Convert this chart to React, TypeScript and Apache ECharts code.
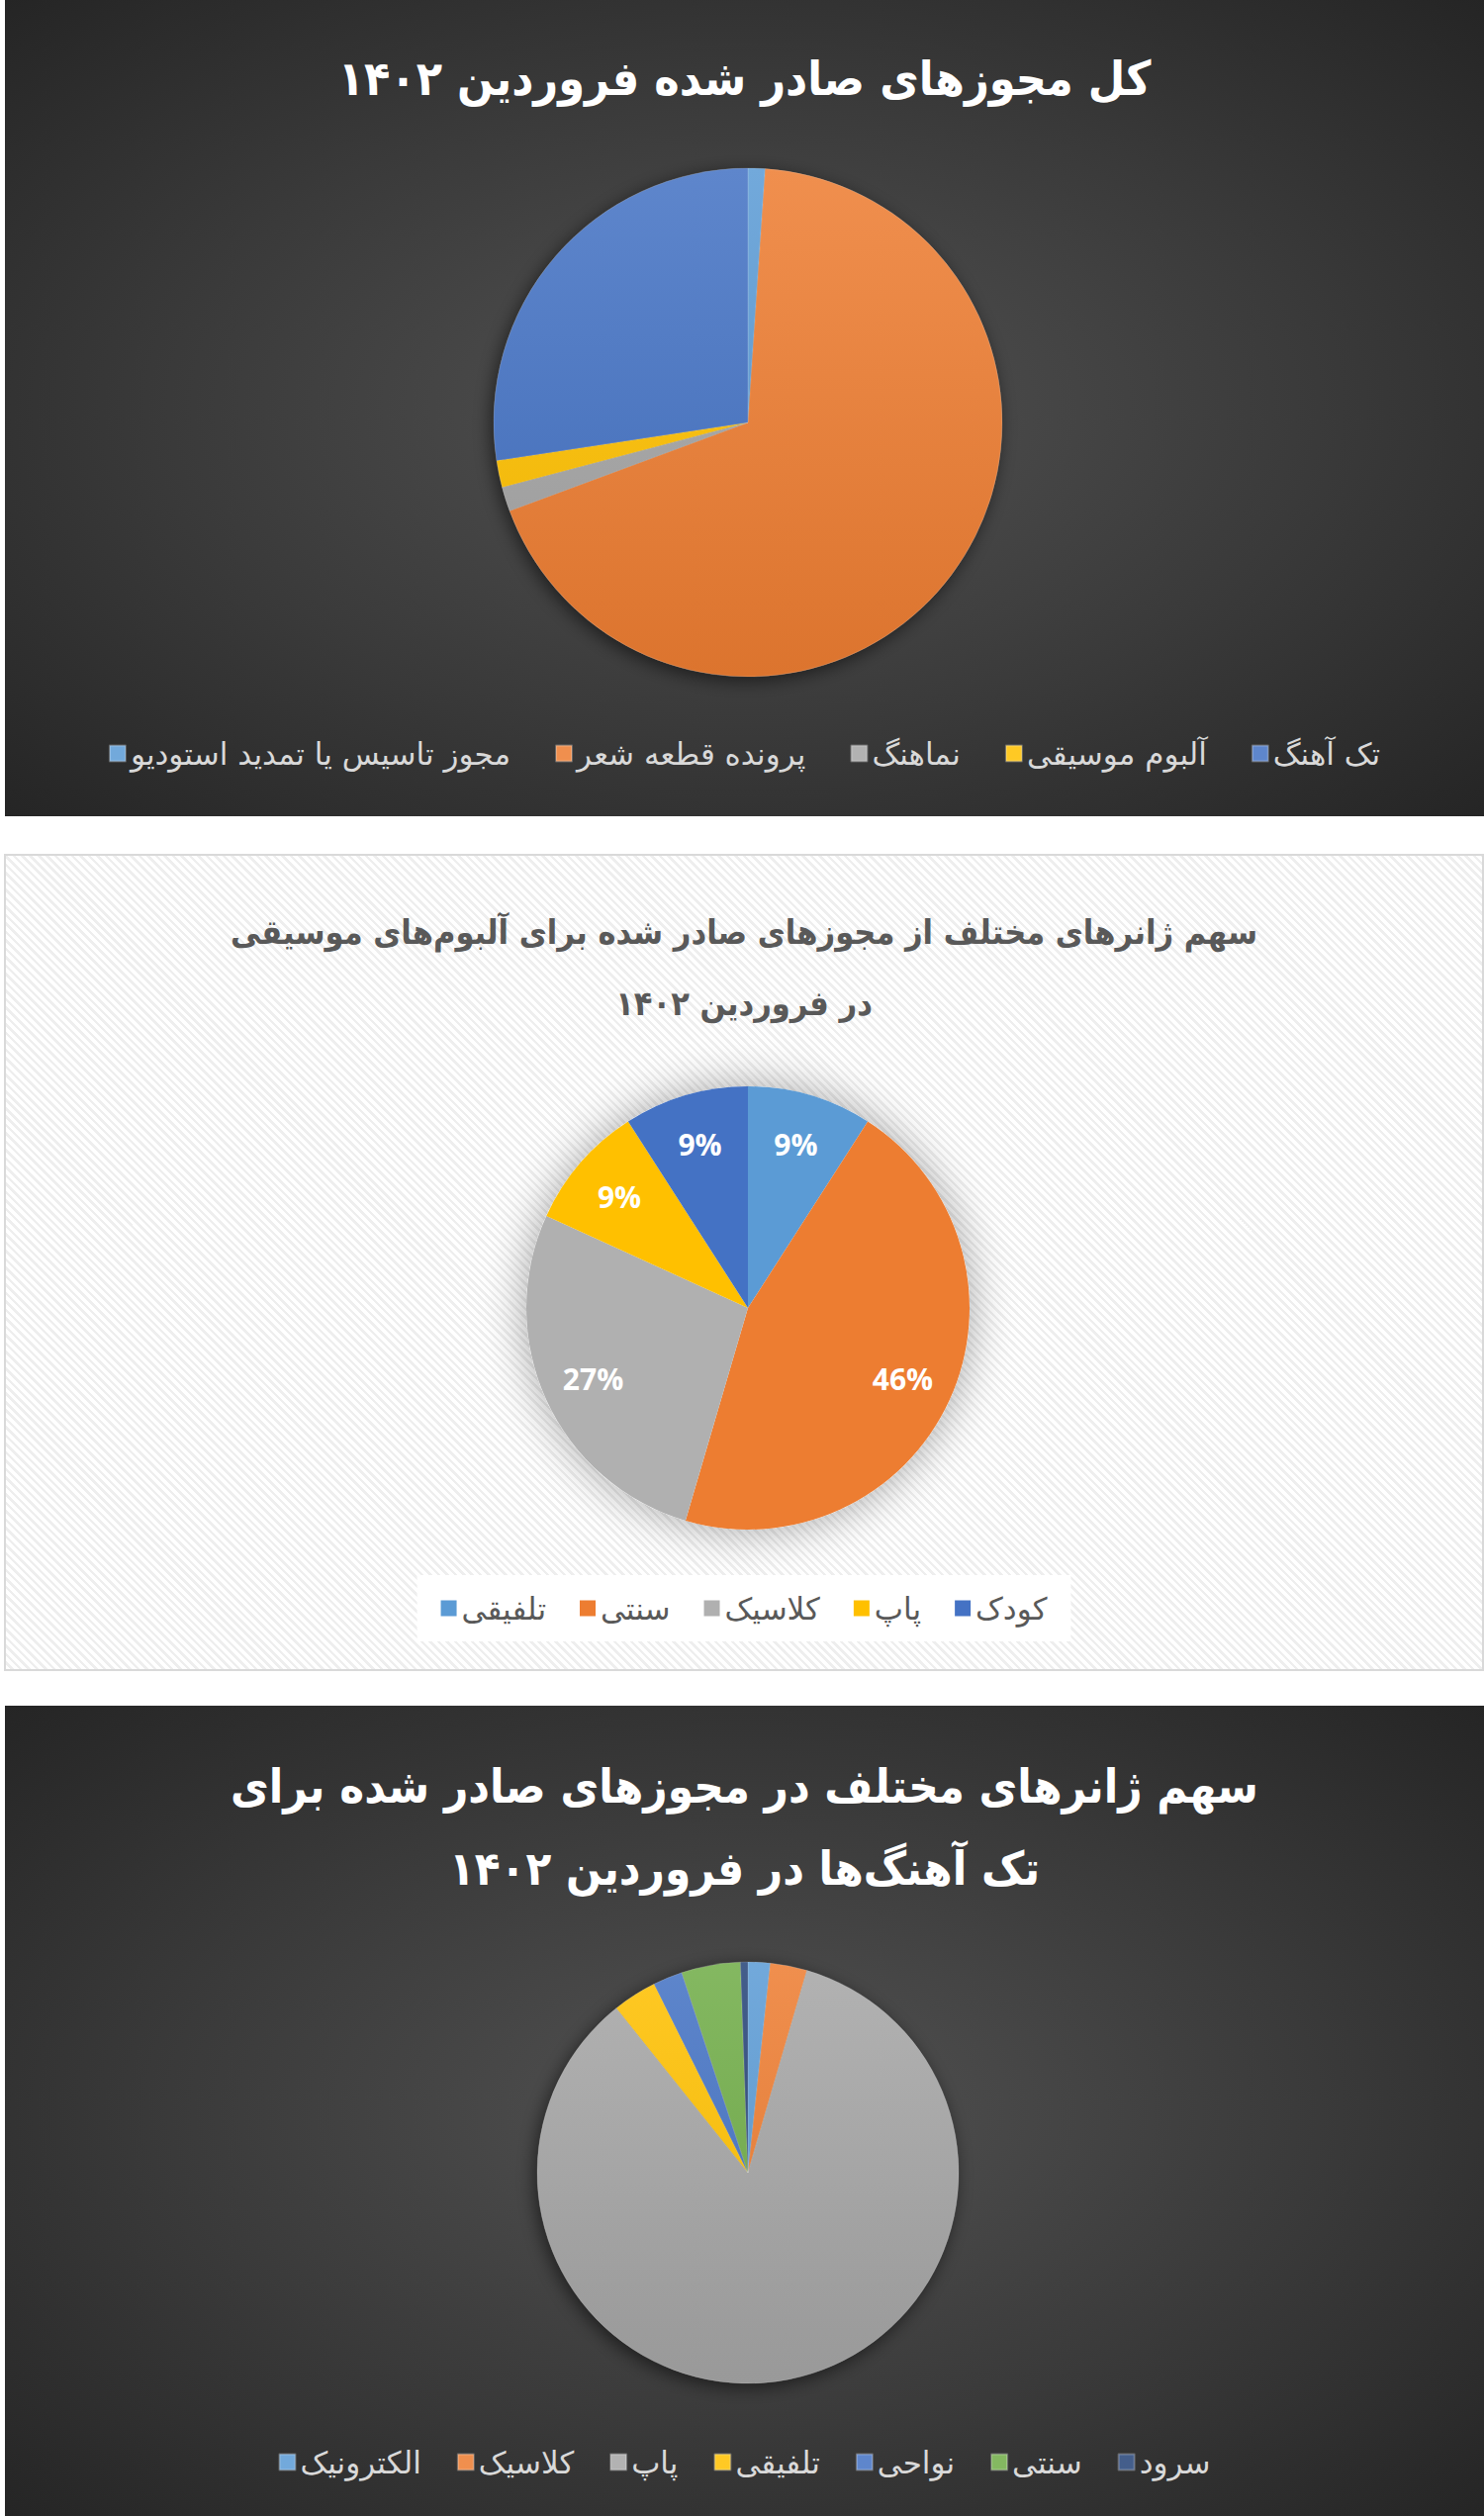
import React, { useEffect, useRef } from "react";
import * as echarts from "echarts";

// ---------- data ----------
const TITLE1 = "کل مجوزهای صادر شده فروردین ۱۴۰۲";
const CATS1 = ["مجوز تاسیس یا تمدید استودیو", "پرونده قطعه شعر", "نماهنگ", "آلبوم موسیقی", "تک آهنگ"];
const VALS1 = [7, 441, 10, 11, 177];
const COLORS1 = ["#5B9BD5", "#ED7D31", "#A5A5A5", "#FFC000", "#4472C4"];

const TITLE2 = "سهم ژانرهای مختلف از مجوزهای صادر شده برای آلبوم‌های موسیقی\nدر فروردین ۱۴۰۲";
const CATS2 = ["تلفیقی", "سنتی", "کلاسیک", "پاپ", "کودک"];
const VALS2 = [1, 5, 3, 1, 1];
const COLORS2 = ["#5B9BD5", "#ED7D31", "#B0B0B0", "#FFC000", "#4472C4"];

const TITLE3 = "سهم ژانرهای مختلف در مجوزهای صادر شده برای\nتک آهنگ‌ها در فروردین ۱۴۰۲";
const CATS3 = ["الکترونیک", "کلاسیک", "پاپ", "تلفیقی", "نواحی", "سنتی", "سرود"];
const VALS3 = [3, 5, 150, 6, 4, 8, 1];
const COLORS3 = ["#5B9BD5", "#ED7D31", "#A5A5A5", "#FFC000", "#4472C4", "#70AD47", "#264478"];

const FA = "'DejaVu Sans', sans-serif";
const FA_TITLE = "'DejaVu Sans Condensed', 'DejaVu Sans', sans-serif";

// ---------- helpers ----------
function shade(hex: string, amt: number): string {
  const n = parseInt(hex.slice(1), 16);
  let r = (n >> 16) & 255, g = (n >> 8) & 255, b = n & 255;
  const f = (c: number) => {
    const v = amt >= 0 ? c + (255 - c) * amt : c * (1 + amt);
    return Math.max(0, Math.min(255, Math.round(v)));
  };
  r = f(r); g = f(g); b = f(b);
  return "#" + ((1 << 24) + (r << 16) + (g << 8) + b).toString(16).slice(1);
}

function vgrad(base: string, y0: number, y1: number) {
  return {
    type: "linear",
    x: 0, y: y0, x2: 0, y2: y1,
    global: true,
    colorStops: [
      { offset: 0, color: shade(base, 0.14) },
      { offset: 1, color: shade(base, -0.07) },
    ],
  };
}

function Chart({ option, style }: { option: any; style: React.CSSProperties }) {
  const ref = useRef<HTMLDivElement>(null);
  useEffect(() => {
    if (!ref.current) return;
    const chart = echarts.init(ref.current, null, { renderer: "svg" });
    chart.setOption(option);
    return () => chart.dispose();
  }, [option]);
  return <div ref={ref} style={style} />;
}

// ---------- options ----------
function darkPie(
  title: string, titleSize: number, titleLH: number, titleTop: number,
  cats: string[], vals: number[], colors: string[],
  cx: number, cy: number, r: number, legendTop: number, legendGap: number
) {
  return {
    animation: false,
    title: {
      text: title,
      left: "center",
      top: titleTop,
      textStyle: {
        color: "#FFFFFF",
        fontSize: titleSize,
        fontWeight: "bold",
        fontFamily: FA_TITLE,
        lineHeight: titleLH,
      },
    },
    legend: {
      data: cats,
      left: "center",
      top: legendTop,
      itemWidth: 16,
      itemHeight: 16,
      itemGap: legendGap,
      icon: "rect",
      textStyle: { color: "#D9D9D9", fontSize: 31, fontFamily: FA },
    },
    series: [
      {
        type: "pie",
        silent: true,
        center: [cx, cy],
        radius: r,
        label: { show: false },
        labelLine: { show: false },
        itemStyle: {
          color: "#555",
          shadowBlur: 18,
          shadowOffsetX: -3,
          shadowOffsetY: 4,
          shadowColor: "rgba(0,0,0,0.55)",
        },
        data: [{ value: 1, name: "__base" }],
        z: 1,
      },
      {
        type: "pie",
        center: [cx, cy],
        radius: r,
        startAngle: 90,
        clockwise: true,
        label: { show: false },
        labelLine: { show: false },
        itemStyle: { borderWidth: 0.6, borderColor: "rgba(255,255,255,0.25)" },
        data: cats.map((c, i) => ({
          name: c,
          value: vals[i],
          itemStyle: { color: vgrad(colors[i], cy - r, cy + r) },
        })),
        z: 2,
      },
    ],
  };
}

const option1 = darkPie(TITLE1, 48, 60, 44, CATS1, VALS1, COLORS1, 751, 427, 257, 741, 45);
const option3 = darkPie(TITLE3, 47, 83, 35, CATS3, VALS3, COLORS3, 751, 472, 213, 2486 - 1724 - 18, 36);

const cx2 = 752, cy2 = 459, r2 = 224;
const option2 = {
  animation: false,
  title: {
    text: TITLE2,
    left: "center",
    top: 38,
    textStyle: {
      color: "#595959",
      fontSize: 34,
      fontWeight: "bold",
      fontFamily: FA_TITLE,
      lineHeight: 72,
    },
  },
  legend: {
    data: CATS2,
    left: "center",
    top: 1594 - 863 - 2,
    padding: [18, 24],
    backgroundColor: "#FFFFFF",
    itemWidth: 16,
    itemHeight: 16,
    itemGap: 34,
    icon: "rect",
    textStyle: { color: "#595959", fontSize: 31, fontFamily: FA },
  },
  series: [
    {
      type: "pie",
      silent: true,
      center: [cx2, cy2],
      radius: r2,
      label: { show: false },
      labelLine: { show: false },
      itemStyle: {
        color: "#FFFFFF",
        shadowBlur: 45,
        shadowColor: "rgba(0,0,0,0.35)",
      },
      data: [{ value: 1, name: "__base" }],
      z: 1,
    },
    {
      type: "pie",
      center: [cx2, cy2],
      radius: r2,
      startAngle: 90,
      clockwise: true,
      label: { show: false },
      labelLine: { show: false },
      data: CATS2.map((c, i) => ({ name: c, value: VALS2[i], itemStyle: { color: COLORS2[i] } })),
      z: 2,
    },
    {
      type: "pie",
      silent: true,
      center: [cx2, cy2],
      radius: [Math.round(r2 * 0.56), Math.round(r2 * 0.95)],
      startAngle: 90,
      clockwise: true,
      percentPrecision: 0,
      itemStyle: { color: "rgba(0,0,0,0)" },
      label: {
        show: true,
        position: "inside",
        formatter: "{d}%",
        color: "#FFFFFF",
        fontSize: 30,
        fontWeight: "bold",
        fontFamily: "'Open Sans', sans-serif",
      },
      labelLine: { show: false },
      data: CATS2.map((c, i) => ({ name: c, value: VALS2[i] })),
      z: 3,
    },
  ],
};

const darkBg = "radial-gradient(ellipse farthest-corner at 50% 50%, #525252 0%, #3a3a3a 55%, #252525 100%)";

export default function App() {
  return (
    <div style={{ position: "absolute", left: 0, top: 0, width: 1500, height: 2543, background: "#FFFFFF", overflow: "hidden" }}>
      <Chart option={option1} style={{ position: "absolute", left: 5, top: 0, width: 1495, height: 825, background: darkBg }} />
      <div
        style={{
          position: "absolute",
          left: 4,
          top: 863,
          width: 1496,
          height: 826,
          boxSizing: "border-box",
          border: "2px solid #D9D9D9",
          background:
            "repeating-linear-gradient(45deg, #FFFFFF 0px, #FFFFFF 3.5px, #EEEEEE 3.5px, #EEEEEE 6px)",
        }}
      >
        <Chart option={option2} style={{ position: "absolute", left: -2, top: -2, width: 1496, height: 826 }} />
      </div>
      <Chart option={option3} style={{ position: "absolute", left: 5, top: 1724, width: 1495, height: 819, background: darkBg }} />
    </div>
  );
}
